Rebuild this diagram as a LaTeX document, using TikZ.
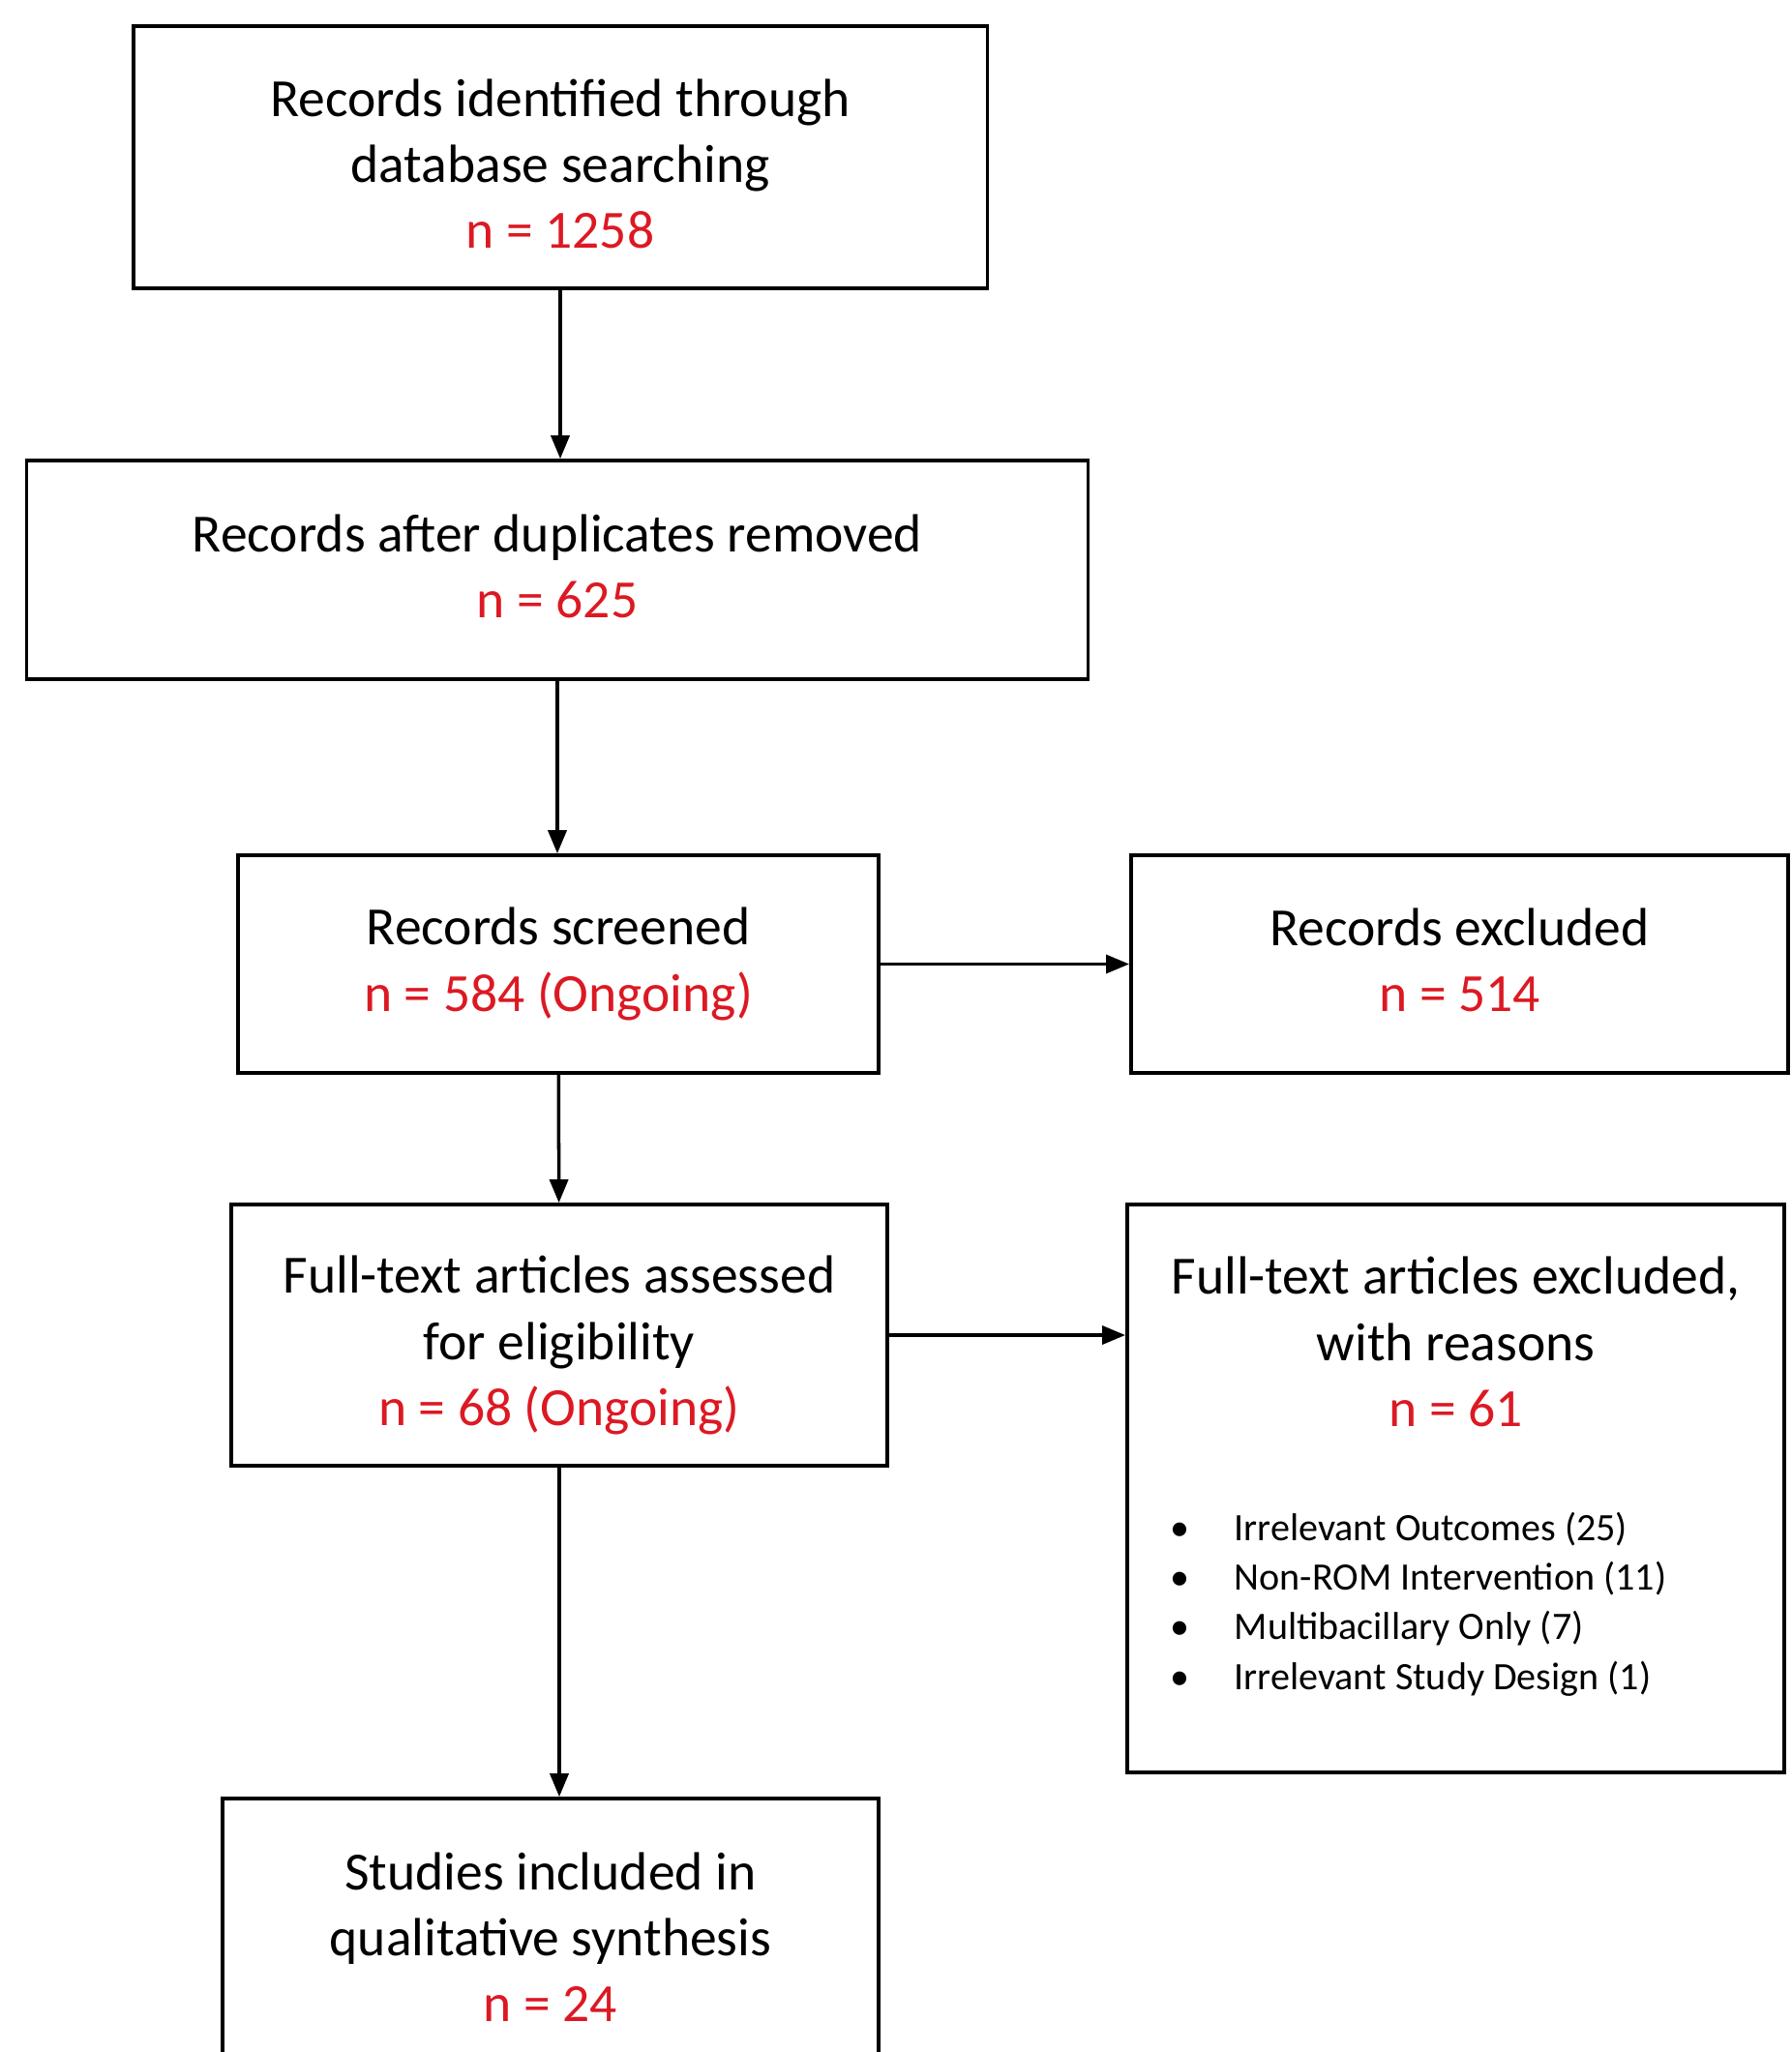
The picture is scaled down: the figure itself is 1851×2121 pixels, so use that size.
\documentclass[tikz,border=0pt]{standalone}
\usepackage{fontspec}
\setmainfont{Carlito}
\usetikzlibrary{arrows.meta}
\usetikzlibrary{positioning}
\definecolor{nred}{RGB}{220,25,35}
\newcommand{\nval}[1]{\textcolor{nred}{#1}}
\newcommand{\padtop}[1]{\rule{0pt}{#1}}
\newcommand{\paddown}[1]{\rule[-#1]{0pt}{0pt}}
\tikzset{
	stage/.style={draw, rectangle, align=center, font=\fontsize{15.8}{19.4}\selectfont},
	reasonlist/.style={inner sep=0pt, align=left, font=\fontsize{11.4}{14.6}\selectfont}
}

\begin{document}
\begin{tikzpicture}[x=0.01cm, y=-0.01cm, line width=1pt, >={Triangle[length=2.4mm,width=1.9mm]}]
			\useasboundingbox (0,0) rectangle (1851,2121);
			\node[stage, minimum width=8.82cm, minimum height=2.71cm] (ID) at (579,162.5) {\padtop{14.8pt}Records identified through\\database searching\\\nval{n = 1258}};
			\node[stage, minimum width=10.96cm, minimum height=2.26cm] (Dup) at (576,589) {Records after duplicates removed\\\nval{n = 625}\paddown{2.3pt}};
			\draw [->] (ID.south) -- (ID.south |- Dup.north);
			\node[stage, minimum width=6.62cm, minimum height=2.25cm] (Scr) at (577,996.5) {Records screened\\\nval{n = 584 (Ongoing)}};
			\draw [->] (Dup.south) -- (Dup.south |- Scr.north);
			\node[stage, minimum width=6.79cm, minimum height=2.25cm] (Exc) at (1508.5,996.5) {Records excluded\\\nval{n = 514}\paddown{2.3pt}};
			\draw [->] (Scr) -- (Exc);
			\node[stage, minimum width=6.78cm, minimum height=2.70cm] (Elig) at (578,1380) {\padtop{17pt}Full-text articles assessed\\for eligibility\\\nval{n = 68 (Ongoing)}};
			\draw [->] (Scr) -- (Elig);
			\node[stage, minimum width=6.79cm, minimum height=5.87cm] (FTE) at (1504.5,1538.5) {};
			\node[stage, draw=none] (FTEt) at (1504.5,1387) {Full-text articles excluded,\\with reasons\\\nval{n = 61}};
			\node[reasonlist, anchor=west] (Why) at (1208,1659) {\begin{tabular}{@{}l@{\hspace{0.46cm}}l@{}}
				\textbullet & Irrelevant Outcomes (25)\\
				\textbullet & Non-ROM Intervention (11)\\
				\textbullet & Multibacillary Only (7)\\
				\textbullet & Irrelevant Study Design (1)
			\end{tabular}};
			\draw [->] (Elig) -- (Elig -| FTE.west);
			\node[stage, minimum width=6.78cm, minimum height=2.70cm] (Syn) at (569,1994) {\padtop{15.5pt}Studies included in\\qualitative synthesis\\\nval{n = 24}};
			\draw [->] (Elig.south) -- (Elig.south |- Syn.north);
		\end{tikzpicture}
\end{document}
